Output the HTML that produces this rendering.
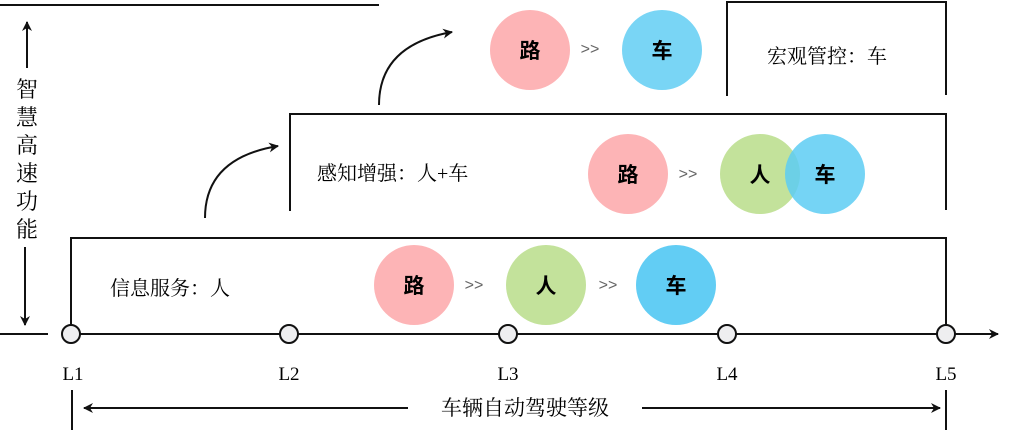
<!DOCTYPE html><html><head><meta charset="utf-8"><style>
body{margin:0;background:#fff;}
svg{display:block}
text{font-family:"Liberation Serif","Noto Serif CJK SC",serif;fill:#000}
.c{font-family:"Liberation Sans","Noto Sans CJK SC",sans-serif;font-weight:bold;font-size:21px}
.g{font-size:16px;fill:#666;font-family:"Liberation Sans",sans-serif}
</style></head><body>
<svg width="1009" height="436" viewBox="0 0 1009 436">
<defs><marker id="a" markerWidth="10" markerHeight="10" refX="9" refY="5" orient="auto" markerUnits="userSpaceOnUse"><path d="M0,0 L10,5 L0,10 L3,5 Z" fill="#111"/></marker></defs>
<g stroke="#111" stroke-width="2" fill="none">
<line x1="0" y1="5" x2="379" y2="5"/>
<line x1="0" y1="334" x2="48" y2="334"/>
<line x1="70" y1="334" x2="998" y2="334" marker-end="url(#a)"/>
<polyline points="71,334 71,238 946,238 946,334"/>
<polyline points="290,211 290,114 946,114 946,210"/>
<polyline points="727,96 727,2 946,2 946,95"/>
<line x1="27" y1="68" x2="27" y2="22" marker-end="url(#a)"/>
<line x1="25" y1="247" x2="25" y2="325" marker-end="url(#a)"/>
<line x1="72" y1="390" x2="72" y2="430"/>
<line x1="946" y1="390" x2="946" y2="430"/>
<line x1="408" y1="408" x2="84" y2="408" marker-end="url(#a)"/>
<line x1="642" y1="408" x2="940" y2="408" marker-end="url(#a)"/>
<path d="M205,218 Q205,158 278,146" marker-end="url(#a)"/>
<path d="M379,105 Q379,45 452,32" marker-end="url(#a)"/>
</g>
<g fill="#eeeef0" stroke="#111" stroke-width="2">
<circle cx="71" cy="334" r="9"/><circle cx="289" cy="334" r="9"/><circle cx="508" cy="334" r="9"/><circle cx="727" cy="334" r="9"/><circle cx="946" cy="334" r="9"/>
</g>
<g font-size="19" text-anchor="middle">
<text x="73" y="380">L1</text><text x="289" y="380">L2</text><text x="508" y="380">L3</text><text x="727" y="380">L4</text><text x="946" y="380">L5</text>
</g>
<text x="525" y="415" font-size="21" text-anchor="middle">车辆自动驾驶等级</text>
<g font-size="22" text-anchor="middle">
<text x="27" y="97">智</text><text x="27" y="125">慧</text><text x="27" y="153">高</text><text x="27" y="181">速</text><text x="27" y="209">功</text><text x="27" y="237">能</text>
</g>
<text x="110" y="295" font-size="20">信息服务：人</text>
<text x="317" y="180" font-size="20">感知增强：人+车</text>
<text x="767" y="63" font-size="20">宏观管控：车</text>
<circle cx="414" cy="285" r="40" fill="#fdb4b6"/><circle cx="546" cy="285" r="40" fill="#c3e29b"/><circle cx="676" cy="285" r="40" fill="#62cdf4"/>
<circle cx="628" cy="174" r="40" fill="#fdb4b6"/><circle cx="760" cy="174" r="40" fill="#c3e29b"/><circle cx="825" cy="174" r="40" fill="#5dcdf3" fill-opacity="0.85"/>
<circle cx="530" cy="50" r="40" fill="#fdb4b6"/><circle cx="662" cy="50" r="40" fill="#79d5f5"/>
<g text-anchor="middle">
<text class="c" x="414" y="293">路</text><text class="c" x="546" y="293">人</text><text class="c" x="676" y="293">车</text>
<text class="c" x="628" y="182">路</text><text class="c" x="760" y="182">人</text><text class="c" x="825" y="182">车</text>
<text class="c" x="530" y="58">路</text><text class="c" x="662" y="58">车</text>
</g>
<g text-anchor="middle">
<text class="g" x="474" y="290">&gt;&gt;</text><text class="g" x="608" y="290">&gt;&gt;</text>
<text class="g" x="688" y="179">&gt;&gt;</text><text class="g" x="590" y="54">&gt;&gt;</text>
</g>
</svg></body></html>
